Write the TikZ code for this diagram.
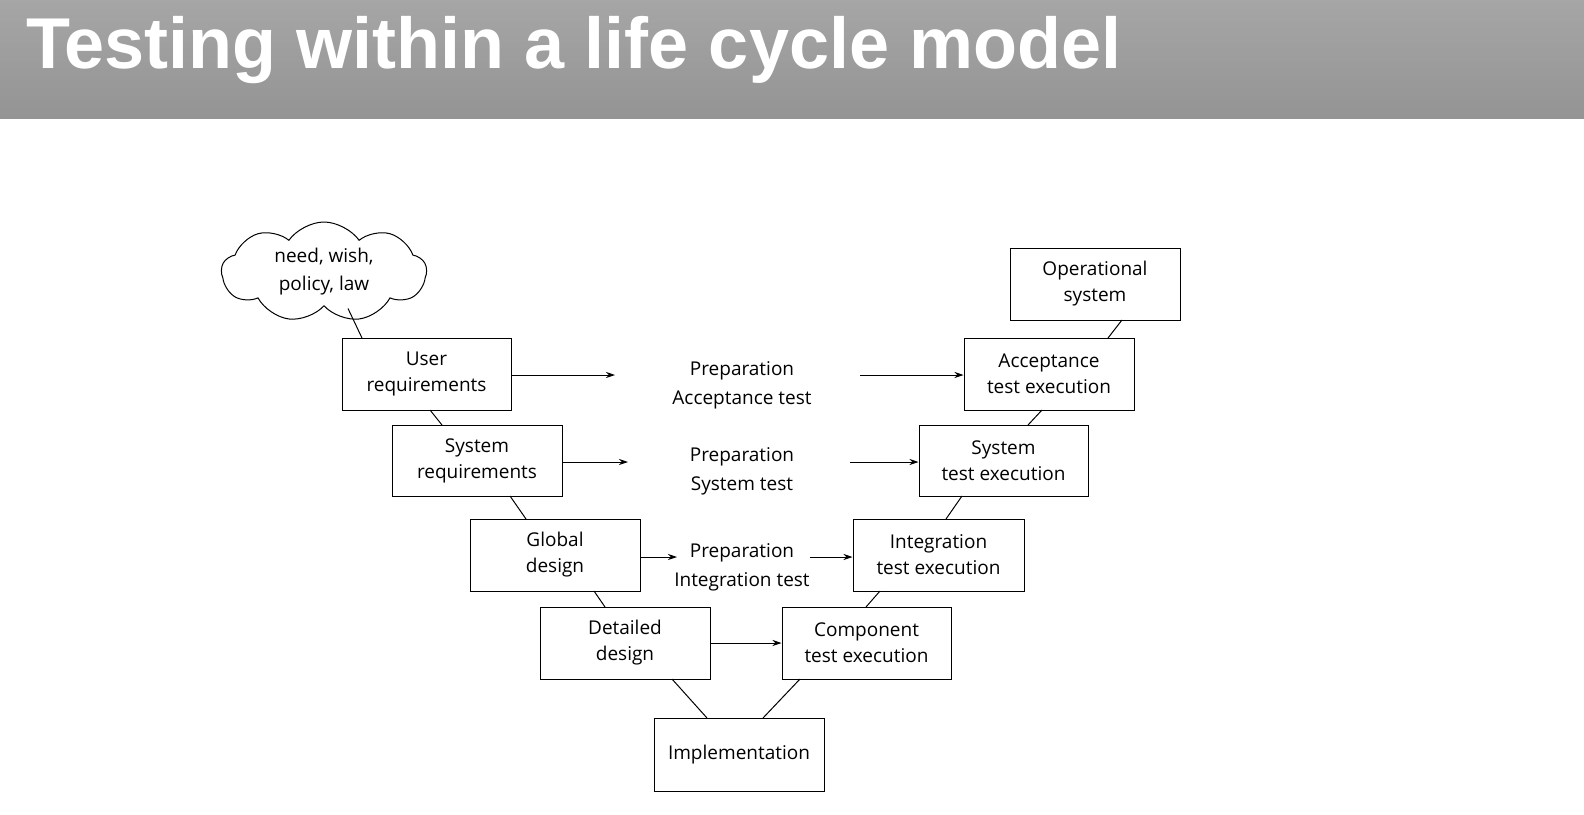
\documentclass[tikz,border=0pt]{standalone}
\usepackage{fontspec}
\setmainfont{Open Sans}
\newfontfamily\titlefont{Liberation Sans}
\usetikzlibrary{shapes.symbols,arrows.meta}
\begin{document}
\begin{tikzpicture}[x=1pt,y=-1pt,
  box/.style={draw,line width=1pt,align=center,font=\fontsize{19}{26}\selectfont,inner sep=0pt},
  lbl/.style={align=center,font=\fontsize{19}{29}\selectfont},
  arr/.style={-{Stealth[length=9pt,width=6pt]},line width=0.9pt},
  ln/.style={line width=1pt}]
\useasboundingbox (0,0) rectangle (1584,814);
\fill[white] (0,0) rectangle (1584,814);
\shade[top color=gray!70,bottom color=gray!95!black!80] (0,0) rectangle (1584,118);
\node[anchor=base west,text=white,font=\titlefont\bfseries\fontsize{72}{80}\selectfont,inner sep=0pt] (title) at (26,68) {Testing within a life cycle model};
\node[draw,cloud,cloud puffs=9,cloud puff arc=110,aspect=2,minimum width=205,minimum height=100,line width=1pt,align=center,font=\fontsize{19}{28}\selectfont] (cloud) at (324,272) {need, wish,\\policy, law};
\newcommand\bx[6]{\node[box,minimum width={#4-#2},minimum height={#5-#3}] (#1) at ({(#2+#4)/2},{(#3+#5)/2}) {#6};}
\bx{ur}{342}{338}{511}{410}{User\\requirements}
\bx{sr}{392}{425}{562}{496}{System\\requirements}
\bx{gd}{470}{519}{640}{591}{Global\\design}
\bx{dd}{540}{607}{710}{679}{Detailed\\design}
\bx{im}{654}{718}{824}{791}{Implementation}
\bx{ct}{782}{607}{951}{679}{Component\\test execution}
\bx{it}{853}{519}{1024}{591}{Integration\\test execution}
\bx{st}{919}{425}{1088}{496}{System\\test execution}
\bx{at}{964}{338}{1134}{410}{Acceptance\\test execution}
\bx{os}{1010}{248}{1180}{320}{Operational\\system}
\node[lbl] (pa) at (742,385) {Preparation\\Acceptance test};
\node[lbl] (ps) at (742,471) {Preparation\\System test};
\node[lbl] (pi) at (742,567) {Preparation\\Integration test};
\coordinate (a1) at (615,375); \coordinate (a2) at (860,375);
\coordinate (s1) at (628,462); \coordinate (s2) at (850,462);
\coordinate (g1) at (677,557); \coordinate (g2) at (810,557);
\draw[arr] (ur.east |- a1) -- (a1);
\draw[arr] (a2) -- (at.west |- a2);
\draw[arr] (sr.east |- s1) -- (s1);
\draw[arr] (s2) -- (st.west |- s2);
\draw[arr] (gd.east |- g1) -- (g1);
\draw[arr] (g2) -- (it.west |- g2);
\draw[arr] (dd.east |- 0,643) -- (ct.west |- 0,643);
\draw[ln] (cloud.south) ++(24,2) coordinate (c1) -- (362,338);
\draw[ln] (430,410) -- (442,425);
\draw[ln] (510,496) -- (526,519);
\draw[ln] (594,591) -- (605,607);
\draw[ln] (672,679) -- (707,718);
\draw[ln] (800,679) -- (763,718);
\draw[ln] (866,607) -- (880,591);
\draw[ln] (946,519) -- (962,496);
\draw[ln] (1028,425) -- (1042,410);
\draw[ln] (1108,338) -- (1122,320);
\end{tikzpicture}
\end{document}
